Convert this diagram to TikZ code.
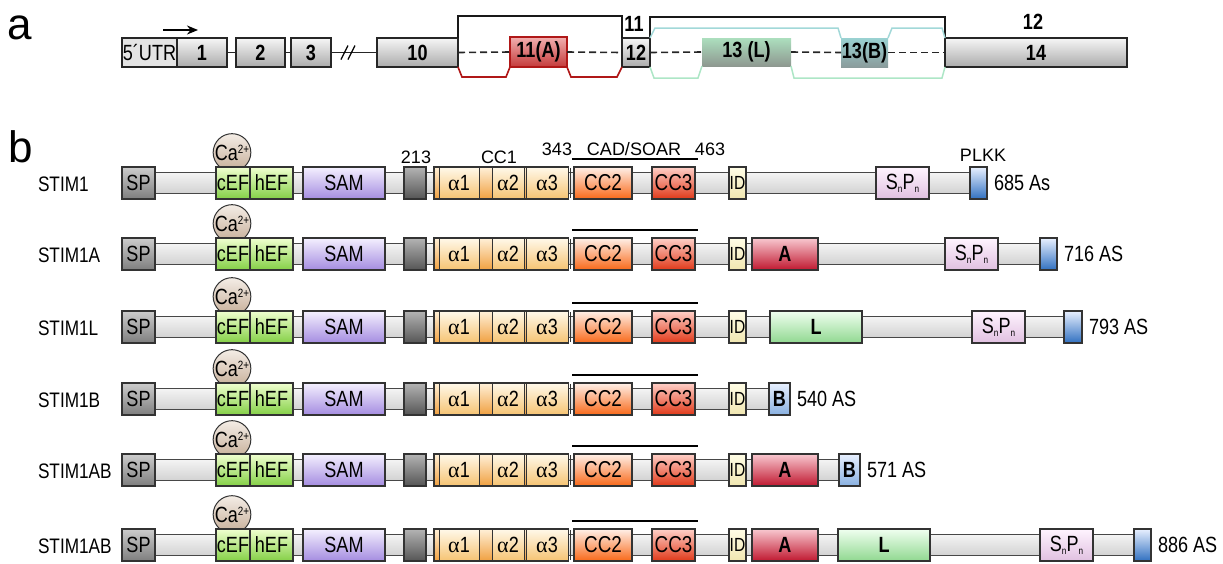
\documentclass[tikz,border=0pt]{standalone}
\usepackage{fontspec}
\usepackage{graphicx}
\setmainfont{Liberation Sans}
\newfontfamily\nf[FakeStretch=0.82]{Liberation Sans}
\newfontfamily\grk{Liberation Serif}
\usetikzlibrary{arrows.meta}
\definecolor{dk}{HTML}{333333}
\definecolor{exT}{HTML}{F6F6F6}
\definecolor{exB}{HTML}{ABABAB}
\definecolor{utr}{HTML}{E4E4E4}
\definecolor{rdT}{HTML}{F2B0B0}
\definecolor{rdB}{HTML}{C43A3A}
\definecolor{rdL}{HTML}{B01818}
\definecolor{lgT}{HTML}{ACDFBE}
\definecolor{lgB}{HTML}{8E9890}
\definecolor{tbT}{HTML}{9AD2D2}
\definecolor{tbB}{HTML}{8A9C9C}
\definecolor{teal}{HTML}{A2D8D8}
\definecolor{grn}{HTML}{ADE6C6}
\definecolor{barT}{HTML}{F4F4F4}
\definecolor{barB}{HTML}{D2D2D2}
\definecolor{spT}{HTML}{CCCCCC}
\definecolor{spB}{HTML}{7E7E7E}
\definecolor{efT}{HTML}{F0FFD0}
\definecolor{efB}{HTML}{84D046}
\definecolor{smT}{HTML}{F4F0FF}
\definecolor{smB}{HTML}{A48CE0}
\definecolor{gyT}{HTML}{B4B4B4}
\definecolor{gyB}{HTML}{555555}
\definecolor{c1T}{HTML}{FFF0D8}
\definecolor{c1B}{HTML}{F0A040}
\definecolor{alT}{HTML}{FFF8E8}
\definecolor{alB}{HTML}{F6C474}
\definecolor{c2T}{HTML}{FFF0E8}
\definecolor{c2B}{HTML}{F86818}
\definecolor{c3T}{HTML}{FFD0C8}
\definecolor{c3B}{HTML}{E03818}
\definecolor{idT}{HTML}{FFFDE6}
\definecolor{idB}{HTML}{F0E6B0}
\definecolor{snT}{HTML}{FFF4FF}
\definecolor{snB}{HTML}{E0C0E0}
\definecolor{blT}{HTML}{E8F0FF}
\definecolor{blB}{HTML}{3070C0}
\definecolor{aT}{HTML}{F8C8D0}
\definecolor{aB}{HTML}{C01830}
\definecolor{lT}{HTML}{F0FFF0}
\definecolor{lB}{HTML}{90D890}
\definecolor{bT}{HTML}{E8F0FF}
\definecolor{bB}{HTML}{88B0E0}
\definecolor{caT}{HTML}{F4EDE6}
\definecolor{caB}{HTML}{C6AE98}
\newcommand\bx[6]{\node[#5, minimum width={(#3-#2)*1pt}] (#1) at ({(#2+#3)/2},#4) {#6};}
\newcommand\sn{S\raisebox{-3pt}{\fontsize{10}{10}\selectfont n}P\raisebox{-3pt}{\fontsize{10}{10}\selectfont n}}
\tikzset{
  every node/.style={inner sep=0pt, outer sep=0pt},
  exon/.style={draw=black!85, line width=1.6pt, minimum height=29pt, top color=exT, bottom color=exB,
    font=\nf\bfseries\fontsize{22}{22}\selectfont},
  conn/.style={draw=black!85, line width=1.6pt},
  dsh/.style={draw=black!85, line width=1.6pt, dash pattern=on 7pt off 4pt},
  blk/.style={draw=black!90, line width=2pt},
  dom/.style={draw=dk, line width=1.3pt, minimum height=32pt, font=\nf\fontsize{22}{22}\selectfont},
  barst/.style={draw=dk!90, line width=1.3pt, minimum height=21pt, top color=barT, bottom color=barB},
  rowlab/.style={font=\nf\fontsize{21}{21}\selectfont, anchor=west},
  toplab/.style={font=\fontsize{18}{18}\selectfont},
  lenlab/.style={font=\nf\fontsize{22}{22}\selectfont, anchor=west, xshift=7pt},
  ca/.style={circle, draw=dk, line width=1pt, minimum size=37pt, top color=caT, bottom color=caB,
    font=\nf\fontsize{22}{22}\selectfont},
}
\begin{document}
\begin{tikzpicture}[x=1pt,y=-1pt]
\useasboundingbox (0,0) rectangle (1223,563);
% ---------- part a ----------
\node[anchor=base west, font=\fontsize{44}{44}\selectfont] (lbla) at (8,39) {a};
\coordinate (arrS) at (163,30);
\coordinate (arrE) at (198,30);
\draw[-{Stealth[length=11pt,width=9pt]}, line width=2pt] (arrS) -- (arrE);
\bx{utr}{122}{177}{52.5}{exon, top color=utr, bottom color=utr, font=\nf\fontsize{22}{22}\selectfont}{5´UTR}
\bx{e1}{177}{227}{52.5}{exon}{1}
\bx{e2}{236}{285}{52.5}{exon}{2}
\bx{e3}{291}{331}{52.5}{exon}{3}
\bx{e10}{377}{458}{52.5}{exon}{10}
\bx{e11A}{510}{567}{52}{exon, minimum height=30pt, draw=rdL, top color=rdT, bottom color=rdB}{11(A)}
\bx{e12}{622}{650}{52.5}{exon}{12}
\bx{e13L}{702}{791}{52}{exon, minimum height=28pt, draw=none, top color=lgT, bottom color=lgB}{13 (L)}
\bx{e13B}{841}{888}{52.5}{exon, draw=none, top color=tbT, bottom color=tbB}{13(B)}
\bx{e14}{945}{1127}{52.5}{exon}{14}
\draw[conn] (e1.east) -- (e2.west);
\draw[conn] (e2.east) -- (e3.west);
\coordinate (brk) at (349,52.5);
\draw[conn] (e3.east) -- (brk) -- (e10.west);
\draw[line width=1.3pt] (brk) ++(-8,7) -- ++(7,-14);
\draw[line width=1.3pt] (brk) ++(-1,7) -- ++(7,-14);
\draw[dsh] (e10.east) -- (e11A.west);
\draw[dsh] (e11A.east) -- (e12.west);
\draw[dsh] (e12.east) -- (e13L.west);
\draw[dsh] (e13L.east) -- (e13B.west);
\draw[dsh] (e13B.east) -- (e14.west);
\coordinate (t1) at (0,16);
\coordinate (t2) at (0,17);
\draw[blk] (e10.north east) |- (t1 -| e12.north west) -- (e12.north west);
\draw[blk] (e12.north east) |- (t2 -| e14.north west) -- (e14.north west);
\draw[draw=rdL, line width=1.6pt] (e10.south east) -- (462,77) -- (506,77) -- (e11A.south west);
\draw[draw=rdL, line width=1.6pt] (e11A.south east) -- (571,77) -- (617,77) -- (e12.south west);
\draw[draw=teal, line width=1.5pt] (e12.north east) -- (655,28) -- (838,28) -- (e13B.north west);
\draw[draw=teal, line width=1.5pt] (e13B.north east) -- (892,28) -- (942,28) -- (e14.north west);
\draw[draw=grn, line width=1.5pt] (e12.south east) -- (654,78) -- (698,78) -- (e13L.south west);
\draw[draw=grn, line width=1.5pt] (e13L.south east) -- (794,78) -- (942,78) -- (e14.south west);
\node[font=\nf\bfseries\fontsize{22}{22}\selectfont] (n11) at (634,24) {11};
\node[font=\nf\bfseries\fontsize{22}{22}\selectfont] (n12) at (1033,22) {12};
% ---------- part b ----------
\node[anchor=base west, font=\fontsize{44}{44}\selectfont] (lblb) at (9,162) {b};
\foreach \r/\y/\e/\n in {1/183/975/STIM1, 2/254/1045/STIM1A, 3/327/1070/STIM1L, 4/399/775/STIM1B, 5/470/845/STIM1AB, 6/545/1140/STIM1AB} {
  \node[rowlab] (lab\r) at (38,\y+1) {\n};
  \bx{bar\r}{140}{\e}{\y}{barst}{}
  \node[ca] (ca\r) at (232,\y-30.5) {Ca\raisebox{7pt}{\fontsize{12}{12}\selectfont 2+}};
  \bx{sp\r}{122}{155}{\y}{dom, top color=spT, bottom color=spB}{SP}
  \bx{cef\r}{216}{250}{\y}{dom, top color=efT, bottom color=efB}{cEF}
  \bx{hef\r}{250}{293}{\y}{dom, top color=efT, bottom color=efB}{hEF}
  \bx{sam\r}{303}{385}{\y}{dom, top color=smT, bottom color=smB}{SAM}
  \bx{tm\r}{404}{426}{\y}{dom, top color=gyT, bottom color=gyB}{}
  \bx{cc1\r}{434}{568}{\y}{dom, top color=c1T, bottom color=c1B}{}
  \bx{al1\r}{439}{479}{\y}{dom, minimum height=31pt, line width=1pt, top color=alT, bottom color=alB}{{\grk α}1}
  \bx{al2\r}{492}{524}{\y}{dom, minimum height=31pt, line width=1pt, top color=alT, bottom color=alB}{{\grk α}2}
  \bx{al3\r}{526}{568}{\y}{dom, minimum height=31pt, line width=1pt, top color=alT, bottom color=alB}{{\grk α}3}
  \draw[draw=dk, line width=1.2pt] (570.5,\y-15) -- (570.5,\y+15);
  \bx{cc2\r}{574}{632}{\y}{dom, top color=c2T, bottom color=c2B, font=\nf\fontsize{23}{23}\selectfont}{CC2}
  \bx{cc3\r}{652}{695}{\y}{dom, top color=c3T, bottom color=c3B, font=\nf\fontsize{23}{23}\selectfont}{CC3}
  \bx{id\r}{729}{746}{\y}{dom, top color=idT, bottom color=idB, font=\nf\fontsize{19}{19}\selectfont}{ID}
  \draw[line width=2pt] (572,\y-24) -- (698,\y-24);
}
% top labels row 1
\node[toplab] (l213) at (416,157) {213};
\node[toplab] (lcc1) at (499,157) {CC1};
\node[toplab] (l343) at (557,149) {343};
\node[toplab] (lcad) at (634,149) {CAD/SOAR};
\node[toplab] (l463) at (710,149) {463};
\node[toplab] (lplkk) at (983,155) {PLKK};
% row 1
\bx{snpn1}{876}{929}{183}{dom, top color=snT, bottom color=snB}{\sn}
\bx{end1}{970}{987}{183}{dom, top color=blT, bottom color=blB}{}
\node[lenlab] (len1) at (end1.east) {685 As};
% row 2
\bx{a2}{752}{818}{254}{dom, top color=aT, bottom color=aB, font=\nf\bfseries\fontsize{22}{22}\selectfont}{A}
\bx{snpn2}{945}{998}{254}{dom, top color=snT, bottom color=snB}{\sn}
\bx{end2}{1040}{1057}{254}{dom, top color=blT, bottom color=blB}{}
\node[lenlab] (len2) at (end2.east) {716 AS};
% row 3
\bx{l3}{770}{862}{327}{dom, top color=lT, bottom color=lB, font=\nf\bfseries\fontsize{22}{22}\selectfont}{L}
\bx{snpn3}{972}{1025}{327}{dom, top color=snT, bottom color=snB}{\sn}
\bx{end3}{1064}{1082}{327}{dom, top color=blT, bottom color=blB}{}
\node[lenlab] (len3) at (end3.east) {793 AS};
% row 4
\bx{b4}{769}{790}{399}{dom, top color=bT, bottom color=bB, font=\nf\bfseries\fontsize{22}{22}\selectfont}{B}
\node[lenlab] (len4) at (b4.east) {540 AS};
% row 5
\bx{a5}{752}{818}{470}{dom, top color=aT, bottom color=aB, font=\nf\bfseries\fontsize{22}{22}\selectfont}{A}
\bx{b5}{839}{860}{470}{dom, top color=bT, bottom color=bB, font=\nf\bfseries\fontsize{22}{22}\selectfont}{B}
\node[lenlab] (len5) at (b5.east) {571 AS};
% row 6
\bx{a6}{752}{818}{545}{dom, top color=aT, bottom color=aB, font=\nf\bfseries\fontsize{22}{22}\selectfont}{A}
\bx{l6}{838}{930}{545}{dom, top color=lT, bottom color=lB, font=\nf\bfseries\fontsize{22}{22}\selectfont}{L}
\bx{snpn6}{1040}{1093}{545}{dom, top color=snT, bottom color=snB}{\sn}
\bx{end6}{1134}{1151}{545}{dom, top color=blT, bottom color=blB}{}
\node[lenlab] (len6) at (end6.east) {886 AS};
\end{tikzpicture}
\end{document}
